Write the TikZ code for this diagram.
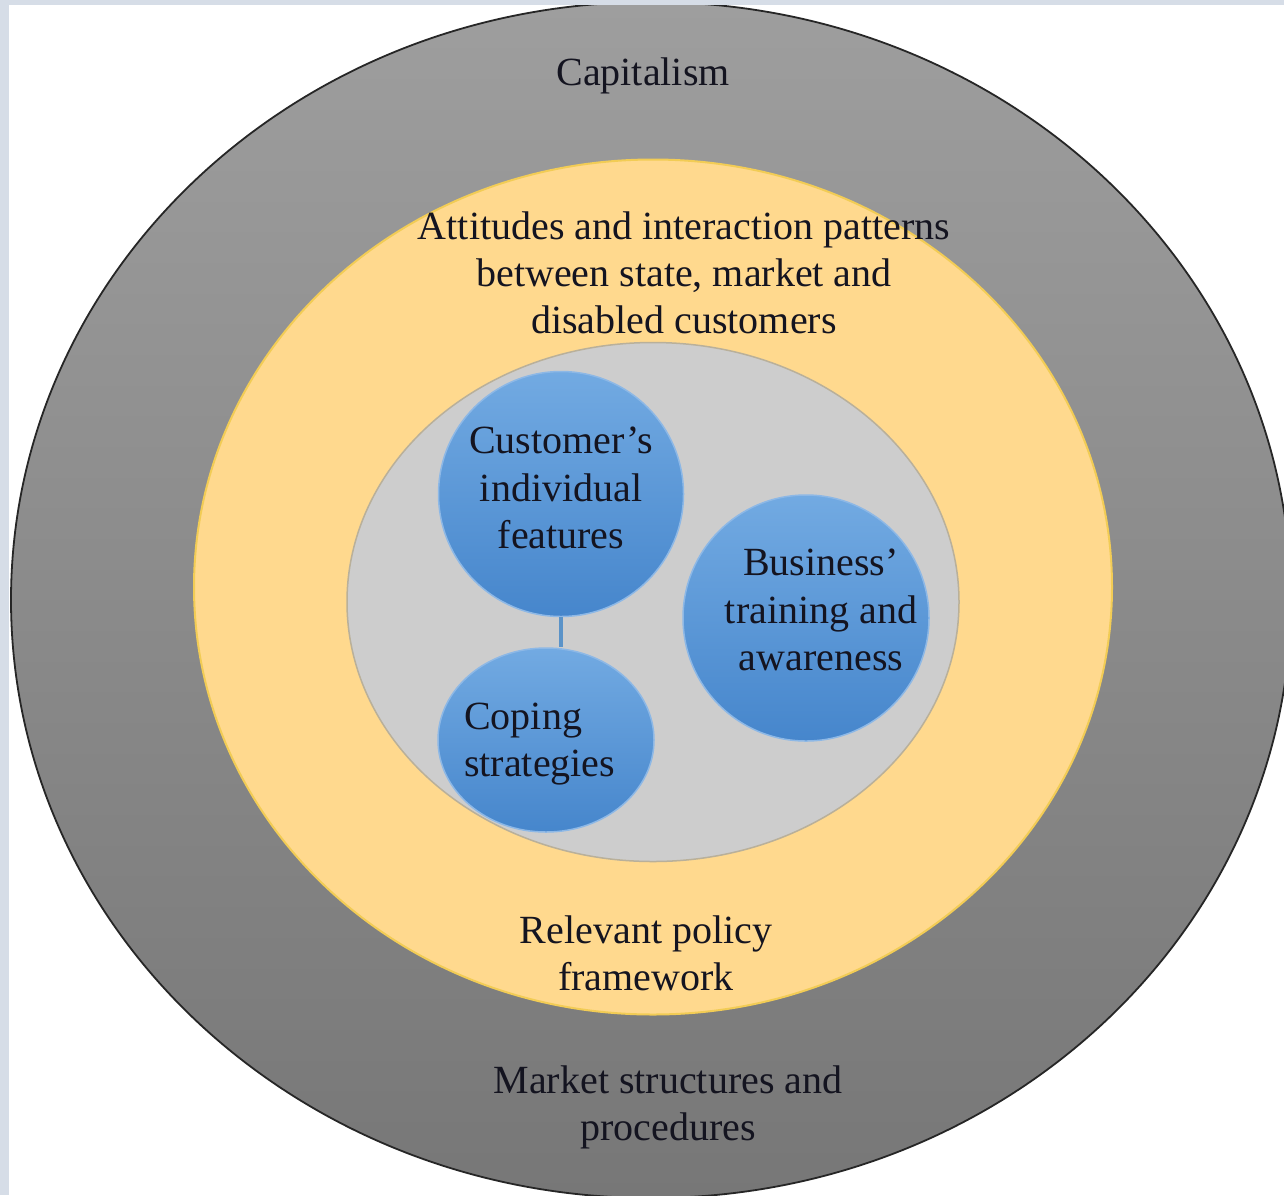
\documentclass[tikz,border=0pt]{standalone}
\usepackage{fontspec}
\setmainfont{Liberation Serif}
\usetikzlibrary{shapes.geometric}
\definecolor{framecol}{HTML}{D6DDE7}
\definecolor{ringtop}{HTML}{9E9E9E}
\definecolor{ringbot}{HTML}{777777}
\definecolor{yellowfill}{HTML}{FFD98E}
\definecolor{yellowedge}{HTML}{F2CC55}
\definecolor{grayfill}{HTML}{CDCDCD}
\definecolor{grayedge}{HTML}{B9B09A}
\definecolor{bluetop}{HTML}{72AAE2}
\definecolor{bluebot}{HTML}{4686CC}
\definecolor{blueedge}{HTML}{8DB8E6}
\definecolor{linkcol}{HTML}{5B93C8}
\definecolor{textcol}{HTML}{141420}
\tikzset{
  bigtext/.style={font=\fontsize{40}{47}\selectfont, text=textcol, align=center, inner sep=0pt},
  bluecirc/.style={circle, top color=bluetop, bottom color=bluebot, draw=blueedge, line width=1.5pt, inner sep=0pt},
  bluetext/.style={font=\fontsize{40}{47.5}\selectfont, text=textcol, align=center, inner sep=0pt},
  linkline/.style={draw=linkcol, line width=3.5pt}
}
\begin{document}
\begin{tikzpicture}[x=1pt,y=-1pt]
\useasboundingbox (0,0) rectangle (1284,1195);
\fill[framecol] (0,0) rectangle (1284,1195);
\fill[white] (9,5) rectangle (1284,1195);
\begin{scope}
\clip (9,5) rectangle (1284,1195);
\node[ellipse, minimum width=1280pt, minimum height=1196pt, inner sep=0pt,
      top color=ringtop, bottom color=ringbot, draw=black!85, line width=1.8pt] (outer) at (651,600) {};
\end{scope}
\node[ellipse, minimum width=918pt, minimum height=855pt, inner sep=0pt,
      fill=yellowfill, draw=yellowedge, line width=2pt] (mid) at (653,587) {};
\node[ellipse, minimum width=612pt, minimum height=519pt, inner sep=0pt,
      fill=grayfill, draw=grayedge, line width=1.5pt] (inner) at (653,602) {};

\node[bluecirc, minimum size=245pt] (cust) at (561,494) {};
\node[bluecirc, minimum size=246pt] (bus) at (806,618) {};
\node[bluecirc, ellipse, minimum width=216pt, minimum height=184pt] (cop) at (546,740) {};
\draw[linkline] (cust.south) -- (cust.south |- cop.north);

\node[bluetext] (custtxt) at (561,488) {Customer’s\\individual\\features};
\node[bluetext] (bustxt) at (821,610) {Business’\\training and\\awareness};
\node[bluetext, align=left, anchor=west] (coptxt) at (464,744) {Coping\\strategies};

\node[bigtext] (cap) at (643,76) {Capitalism};
\node[bigtext] (att) at (684,273) {Attitudes and interaction patterns\\between state, market and\\disabled customers};
\node[bigtext] (rel) at (646,953) {Relevant policy\\framework};
\node[bigtext] (mkt) at (668,1107) {Market structures and\\procedures};
\end{tikzpicture}
\end{document}
